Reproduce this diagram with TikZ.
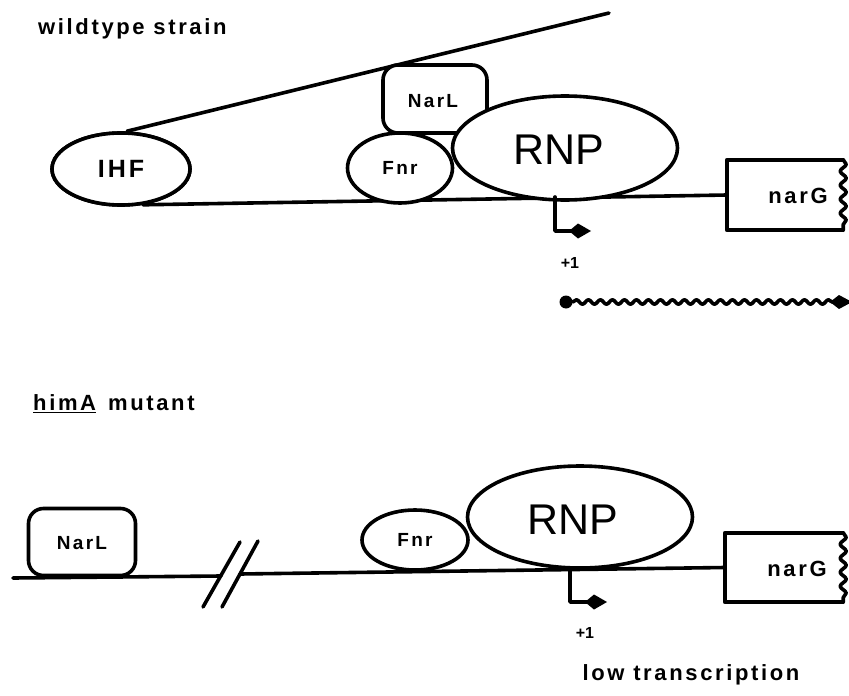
\documentclass[tikz,border=0pt]{standalone}
\usepackage{fontspec}
\setmainfont{Liberation Sans}
\newfontfamily\lblfont[LetterSpace=12]{Liberation Sans}
\usetikzlibrary{shapes.geometric,arrows.meta,decorations.pathmorphing}

\tikzset{
  ln/.style={line width=3.6pt, line cap=round, line join=round},
  prot/.style={draw, ln, ellipse, inner sep=0pt, fill=white},
  protbox/.style={draw, ln, rectangle, rounded corners=15pt, inner sep=0pt, fill=white},
  genebox/.style={rectangle, inner sep=0pt},
  lbl/.style={font=\lblfont\bfseries\fontsize{19}{21}\selectfont, inner sep=0pt},
  mid/.style={font=\lblfont\bfseries\fontsize{22}{24}\selectfont, inner sep=0pt},
  title/.style={mid, anchor=west},
  big/.style={font=\fontsize{43}{45}\selectfont},
  tsslbl/.style={font=\bfseries\fontsize{16}{18}\selectfont, inner sep=0pt},
  tss/.style={ln, -{Kite[length=22pt,width=15pt,inset=9pt]}},
  wavy/.style={decorate, decoration={snake, amplitude=2.2pt, segment length=12pt, post length=18pt}},
  breakedge/.style={decorate, decoration={snake, amplitude=3pt, segment length=14pt}},
  dot/.style={circle, fill=black, inner sep=0pt, minimum size=13pt}
}

\begin{document}
\begin{tikzpicture}[x=1pt, y=-1pt]
\useasboundingbox (0,0) rectangle (849,696);

% ---------------- wildtype strain: looped promoter ----------------
\node[title] (wt) at (38,29) {wildtype strain};

\coordinate (loopend) at (609,13);
\node[genebox, minimum width=116pt, minimum height=70pt] (gA) at (785,195) {};

\node[prot, minimum width=138pt, minimum height=72pt] (IHF) at (121,169) {};
\draw[ln] (IHF.north) ++(6,0) coordinate (ihftop) -- (loopend);
\draw[ln] (IHF.south) ++(22,-2) coordinate (ihfbot) -- (gA.west);
\node[prot, minimum width=138pt, minimum height=72pt] (IHFb) at (121,169) {};
\node[lbl, font=\lblfont\bfseries\fontsize{25}{27}\selectfont] at (IHFb) {IHF};

\node[protbox, minimum width=104pt, minimum height=68pt] (NarLA) at (435,99) {};
\node[lbl] at (433,101) {NarL};
\node[prot, minimum width=105pt, minimum height=70pt] (FnrA) at (400,168) {};
\node[lbl] at (FnrA) {Fnr};
\node[prot, minimum width=225pt, minimum height=104pt] (RNPA) at (565,148) {};
\node[big] at (559,150) {RNP};

% narG gene with broken right edge
\draw[ln] (gA.north east) -- (gA.north west) -- (gA.south west) -- (gA.south east);
\draw[ln, breakedge] (gA.north east) -- (gA.south east);
\node[mid] at (798,196) {narG};

% transcription start and transcript
\coordinate (tssA) at (555,197);
\coordinate (tssAend) at (591,231);
\draw[tss] (tssA) |- (tssAend);
\node[tsslbl] at (570,263) {+1};
\node[dot] (mA) at (566,302) {};
\coordinate (mAend) at (852,302);
\draw[ln, wavy, -{Kite[length=22pt,width=14pt,inset=9pt]}] (mA) -- (mAend);

% ---------------- himA mutant: no loop ----------------
\node[title] (mut) at (33,404) {\underline{himA}\hspace{12pt}mutant};

\node[genebox, minimum width=118pt, minimum height=69pt] (gB) at (784,567.5) {};
\coordinate (dnaL) at (13,578);
\coordinate (brkL) at (221,576);
\coordinate (brkR) at (240,574);
\draw[ln] (dnaL) -- (brkL);
\draw[ln] (brkR) -- (gB.west);
\draw[ln] (203,607) -- (240,542);
\draw[ln] (222,607) -- (258,541);

\node[protbox, minimum width=107pt, minimum height=67pt] (NarLB) at (82,542) {};
\node[lbl] at (82,543) {NarL};
\node[prot, minimum width=106pt, minimum height=60pt] (FnrB) at (415,540) {};
\node[lbl] at (FnrB) {Fnr};
\node[prot, minimum width=225pt, minimum height=102pt] (RNPB) at (580,517) {};
\node[big] at (573,520) {RNP};

\draw[ln] (gB.north east) -- (gB.north west) -- (gB.south west) -- (gB.south east);
\draw[ln, breakedge] (gB.north east) -- (gB.south east);
\node[mid] at (797,569) {narG};

\coordinate (tssB) at (570,570);
\coordinate (tssBend) at (607,602);
\draw[tss] (tssB) |- (tssBend);
\node[tsslbl] at (585,633) {+1};

\node[mid] at (691,675) {low transcription};
\end{tikzpicture}
\end{document}
